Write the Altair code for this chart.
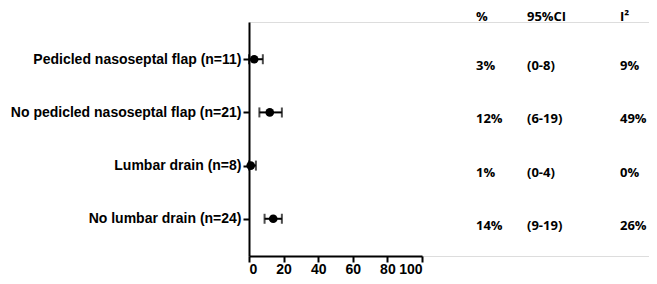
import altair as alt
import pandas as pd

groups = ["Pedicled nasoseptal flap (n=11)", "No pedicled nasoseptal flap (n=21)",
          "Lumbar drain (n=8)", "No lumbar drain (n=24)"]
est = [3, 12, 1, 14]
lo = [0, 6, 0, 9]
hi = [8, 19, 4, 19]
pct_txt = ["3%", "12%", "1%", "14%"]
ci_txt = ["(0-8)", "(6-19)", "(0-4)", "(9-19)"]
i2_txt = ["9%", "49%", "0%", "26%"]
headers = ["%", "95%CI", "I²"]
x_ticks = [0, 20, 40, 60, 80, 100]

df = pd.DataFrame({"group": groups, "est": est, "lo": lo, "hi": hi,
                   "pct": pct_txt, "ci": ci_txt, "i2": i2_txt})

xs = alt.Scale(domain=[0, 100], range=[0, 173], nice=False)
ys = alt.Scale(domain=groups, type="point", padding=0.7)

y_enc = alt.Y("group:N", scale=ys, sort=groups, title=None,
              axis=alt.Axis(labelFont="Liberation Sans", labelFontWeight="bold",
                            labelFontSize=14, labelColor="black", labelPadding=2,
                            tickSize=6, tickWidth=2, tickColor="black",
                            domainWidth=2, domainColor="black", grid=False, labelLimit=400))

base = alt.Chart(df)

rule = base.mark_rule(color="black", strokeWidth=2).encode(
    x=alt.X("lo:Q", scale=xs, title=None,
            axis=alt.Axis(values=x_ticks, labelFont="Liberation Sans", labelFontWeight="bold",
                          labelFontSize=14, labelColor="black", tickSize=6, tickWidth=2,
                          tickColor="black", domainWidth=2, domainColor="black", grid=False,
                          labelPadding=0)),
    x2="hi:Q", y=y_enc)

cap_lo = base.mark_tick(color="black", orient="vertical", size=10, thickness=2).encode(
    x=alt.X("lo:Q", scale=xs), y=alt.Y("group:N", scale=ys, sort=groups))
cap_hi = base.mark_tick(color="black", orient="vertical", size=10, thickness=2).encode(
    x=alt.X("hi:Q", scale=xs), y=alt.Y("group:N", scale=ys, sort=groups))
pts = base.mark_point(filled=True, color="black", size=75, opacity=1).encode(
    x=alt.X("est:Q", scale=xs), y=alt.Y("group:N", scale=ys, sort=groups))

col_x = [227, 278, 371]
fields = ["pct", "ci", "i2"]
texts = []
for cx, f in zip(col_x, fields):
    texts.append(base.mark_text(align="left", baseline="middle", dy=7, font="Open Sans",
                                fontWeight="bold", fontSize=13, color="black").encode(
        x=alt.value(cx), y=alt.Y("group:N", scale=ys, sort=groups), text=f"{f}:N"))

hdr = []
for h, cx in zip(headers, col_x):
    hdr.append(alt.Chart(pd.DataFrame({"h": [h]})).mark_text(
        align="left", baseline="middle", font="Open Sans", fontWeight="bold",
        fontSize=13, color="black").encode(x=alt.value(cx), y=alt.value(-5), text="h:N"))

chart = alt.layer(rule, cap_lo, cap_hi, pts, *texts, *hdr).properties(
    width=400, height=234,
    autosize=alt.AutoSizeParams(type="none"),
    padding={"left": 241, "top": 14, "right": 0, "bottom": 20},
).configure_view(stroke=None).configure(background="white")

chart.save("out.html", embed_options={"renderer": "svg", "actions": False})
